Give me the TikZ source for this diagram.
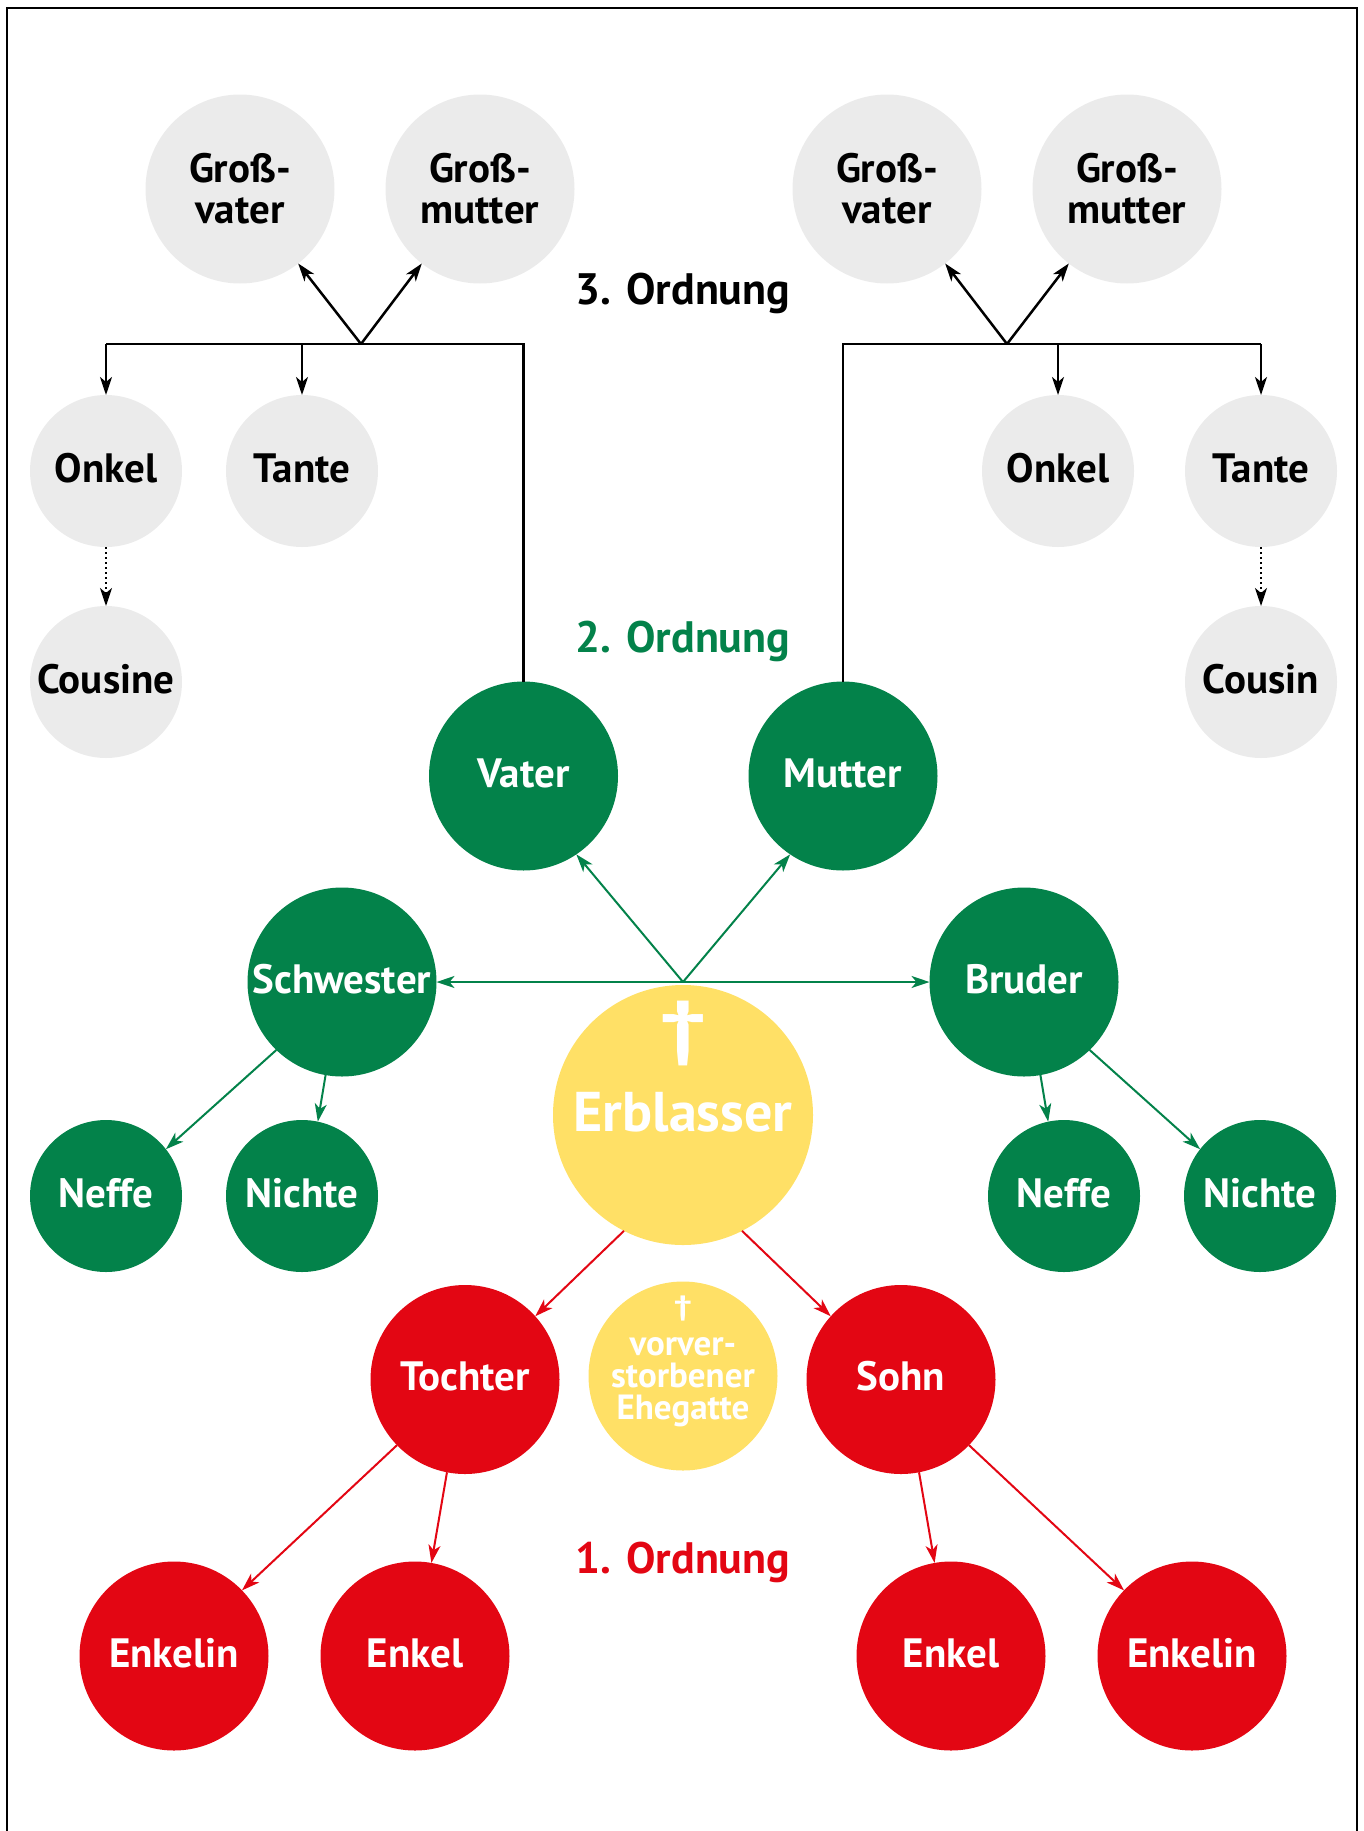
\documentclass[tikz,border=0pt]{standalone}
\usepackage{fontspec}
\setmainfont{PT Sans}
\usetikzlibrary{arrows.meta}
\definecolor{grn}{RGB}{3,130,74}
\definecolor{rd}{RGB}{227,6,19}
\definecolor{yl}{RGB}{255,224,102}
\definecolor{gry}{RGB}{235,235,235}
\begin{document}
\begin{tikzpicture}[x=1pt,y=-1pt,
  base/.style={circle,inner sep=0pt,outer sep=0pt,align=center,font=\fontsize{41}{41}\selectfont\bfseries},
  bigc/.style={base,minimum size=189pt},
  smallc/.style={base,minimum size=152pt},
  one/.style={text height=30pt,text depth=8pt},
  greyc/.style={fill=gry,text=black},
  greenc/.style={fill=grn,text=white},
  redc/.style={fill=rd,text=white},
  yelc/.style={fill=yl,text=white},
  tip/.style={-{Stealth[length=18pt,width=12pt,inset=5pt]}},
  blk/.style={draw=black,line width=2.5pt},
  gline/.style={draw=grn,line width=2pt},
  rline/.style={draw=rd,line width=2pt},
  dots/.style={line width=2pt,dash pattern=on 2pt off 3pt},
  ord/.style={font=\fontsize{44}{44}\selectfont\bfseries,anchor=base,inner sep=0pt},
]
\useasboundingbox (0,0) rectangle (1363,1831);
\draw[line width=1.5pt] (7,1831) -- (7,8) -- (1357,8) -- (1357,1831);

% 3. Ordnung
\node[bigc,greyc] (gvL) at (240,189) {Groß-\\vater};
\node[bigc,greyc] (gmL) at (480,189) {Groß-\\mutter};
\node[bigc,greyc] (gvR) at (887,189) {Groß-\\vater};
\node[bigc,greyc] (gmR) at (1127,189) {Groß-\\mutter};
\node[smallc,one,greyc] (onkelL) at (106,471) {Onkel};
\node[smallc,one,greyc] (tanteL) at (302,471) {Tante};
\node[smallc,one,greyc] (cousineL) at (106,682) {Cousine};
\node[smallc,one,greyc] (onkelR) at (1058,471) {Onkel};
\node[smallc,one,greyc] (tanteR) at (1261,471) {Tante};
\node[smallc,one,greyc] (cousinR) at (1261,682) {Cousin};

% 2. Ordnung
\node[bigc,one,greenc] (vater) at (523.5,776) {Vater};
\node[bigc,one,greenc] (mutter) at (843,776) {Mutter};
\node[bigc,one,greenc] (schw) at (342,982) {Schwester};
\node[bigc,one,greenc] (bruder) at (1024,982) {Bruder};
\node[smallc,one,greenc] (neffeL) at (106,1196) {Neffe};
\node[smallc,one,greenc] (nichteL) at (302,1196) {Nichte};
\node[smallc,one,greenc] (neffeR) at (1064,1196) {Neffe};
\node[smallc,one,greenc] (nichteR) at (1260,1196) {Nichte};

% Erblasser
\node[base,yelc,minimum size=260pt] (erb) at (683,1115) {};
\node[font=\fontsize{72}{72}\selectfont\bfseries,text=white,inner sep=0pt] (erbkreuz) at (683,1033) {\scalebox{1.3}[1]{†}};
\node[font=\fontsize{56}{56}\selectfont\bfseries,text=white,anchor=base,inner sep=0pt] (erbtxt) at (683,1131) {Erblasser};

% 1. Ordnung
\node[bigc,one,redc] (tochter) at (465,1379.5) {Tochter};
\node[bigc,one,redc] (sohn) at (901,1379.5) {Sohn};
\node[bigc,yelc] (ehe) at (683,1376) {};
\node[font=\fontsize{28}{28}\selectfont\bfseries,text=white,inner sep=0pt] (ehekreuz) at (683,1308) {\scalebox{1.3}[1]{†}};
\node[font=\fontsize{35}{32}\selectfont\bfseries,text=white,inner sep=0pt,align=center] (ehetxt) at (683,1382) {vorver-\\storbener\\Ehegatte};
\node[bigc,one,redc] (enkelinL) at (174,1656) {Enkelin};
\node[bigc,one,redc] (enkelL) at (415,1656) {Enkel};
\node[bigc,one,redc] (enkelR) at (951,1656) {Enkel};
\node[bigc,one,redc] (enkelinR) at (1192,1656) {Enkelin};

% labels
\node[ord,text=black] (o3) at (683,304) {3. Ordnung};
\node[ord,text=grn] (o2) at (683,652) {2. Ordnung};
\node[ord,text=rd] (o1) at (683,1573) {1. Ordnung};

% black tree left
\coordinate (jl) at (361,344);
\coordinate (jr) at (1007,344);
\draw[blk] (vater.north) |- (onkelL.north |- jl);
\draw[blk,tip] (onkelL.north |- jl) -- (onkelL.north);
\draw[blk,tip] (tanteL.north |- jl) -- (tanteL.north);
\draw[blk,tip] (jl) -- (gvL.308);
\draw[blk,tip] (jl) -- (gmL.232);
\draw[dots,tip] (onkelL.south) -- (cousineL.north);
% black tree right
\draw[blk] (mutter.north) |- (tanteR.north |- jr);
\draw[blk,tip] (tanteR.north |- jr) -- (tanteR.north);
\draw[blk,tip] (onkelR.north |- jr) -- (onkelR.north);
\draw[blk,tip] (jr) -- (gvR.308);
\draw[blk,tip] (jr) -- (gmR.232);
\draw[dots,tip] (tanteR.south) -- (cousinR.north);

% green
\coordinate (gj) at (683,982);
\draw[gline,tip] (gj) -- (schw.east);
\draw[gline,tip] (gj) -- (bruder.west);
\draw[gline,tip] (gj) -- (vater.-56);
\draw[gline,tip] (gj) -- (mutter.-124);
\draw[gline,tip] (schw.226) -- (neffeL.38);
\draw[gline,tip] (schw.260) -- (nichteL.78);
\draw[gline,tip] (bruder.280) -- (neffeR.102);
\draw[gline,tip] (bruder.314) -- (nichteR.142);

% red
\draw[rline,tip] (erb.243) -- (tochter.42);
\draw[rline,tip] (erb.297) -- (sohn.138);
\draw[rline,tip] (tochter.224) -- (enkelinL.44);
\draw[rline,tip] (tochter.259) -- (enkelL.80);
\draw[rline,tip] (sohn.281) -- (enkelR.100);
\draw[rline,tip] (sohn.316) -- (enkelinR.136);
\end{tikzpicture}
\end{document}
